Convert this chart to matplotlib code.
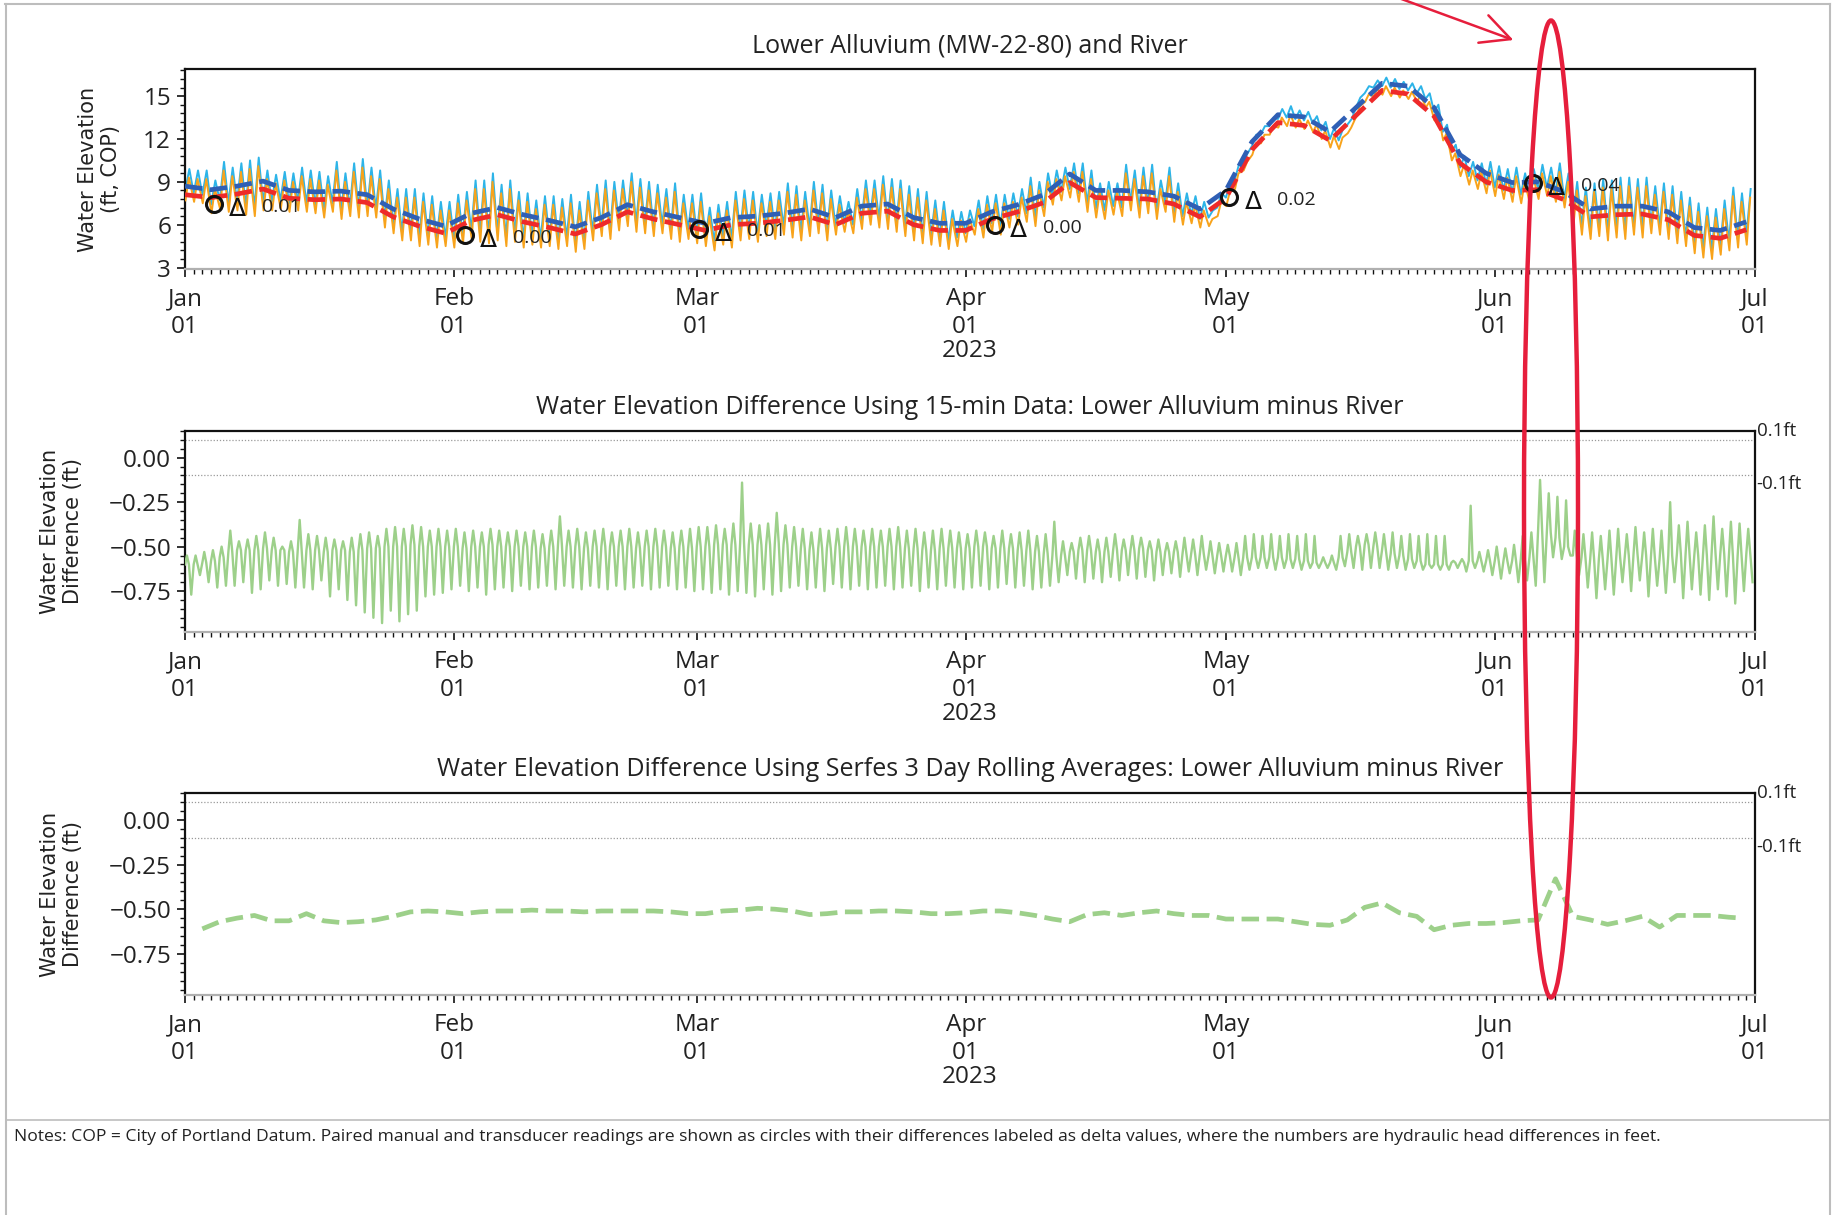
import numpy as np
import matplotlib
matplotlib.use("Agg")
import matplotlib.pyplot as plt
import matplotlib.dates as mdates
import matplotlib.transforms as mtransforms
from matplotlib.ticker import MultipleLocator, AutoMinorLocator, FuncFormatter
from matplotlib.patches import Ellipse, FancyArrowPatch
from matplotlib.lines import Line2D

# ---------------- data ----------------
# daily high / low of the 15-min river record (light blue), Jan 1 .. Jul 1 2023
river_high = [
    9.9, 9.8, 9.8, 9.1, 10.4, 10.0, 10.3, 10.5, 10.7, 9.8,
    9.5, 9.7, 9.6, 10.0, 9.8, 9.7, 9.4, 10.4, 9.6, 10.3,
    10.6, 10.0, 9.8, 9.1, 8.5, 8.5, 8.5, 8.2, 8.0, 7.6,
    7.6, 8.1, 8.3, 9.1, 9.1, 9.6, 8.8, 9.1, 8.3, 8.2,
    7.7, 8.0, 8.0, 7.8, 8.1, 7.6, 8.3, 8.8, 9.1, 9.0,
    9.1, 9.6, 9.2, 9.0, 8.8, 8.5, 8.9, 8.1, 8.1, 8.2,
    7.2, 7.4, 7.6, 8.3, 8.4, 8.3, 8.1, 8.2, 8.3, 8.9,
    8.7, 8.3, 9.0, 8.8, 8.4, 8.0, 7.6, 8.5, 9.1, 9.1,
    9.4, 9.2, 9.1, 8.7, 8.5, 8.3, 7.7, 7.6, 7.0, 6.9,
    7.0, 7.7, 8.0, 8.1, 8.1, 8.2, 8.5, 9.3, 9.0, 9.6,
    9.8, 10.0, 10.3, 10.3, 9.8, 8.9, 9.0, 8.9, 10.2, 9.8,
    10.0, 10.2, 9.1, 10.0, 8.9, 8.2, 8.0, 7.6, 7.0, 8.2,
    8.9, 10.2, 11.0, 12.3, 12.9, 13.5, 14.1, 14.3, 14.0, 13.9,
    13.6, 13.2, 12.8, 12.7, 13.4, 14.9, 15.7, 16.1, 16.3, 16.2,
    16.0, 15.9, 15.7, 15.2, 14.4, 13.0, 11.6, 10.8, 10.4, 10.3,
    10.4, 10.1, 9.9, 10.0, 9.6, 9.9, 10.2, 10.0, 10.3, 9.6,
    9.0, 8.6, 8.9, 9.2, 9.1, 9.3, 9.3, 9.2, 9.3, 8.7,
    8.9, 8.7, 8.3, 7.9, 7.5, 7.2, 7.1, 7.7, 8.6, 8.2,
    8.5]
river_low = [
    8.3, 8.2, 8.1, 7.4, 7.7, 7.5, 7.6, 7.3, 7.2, 7.6,
    7.6, 7.7, 7.5, 7.6, 7.5, 7.4, 7.1, 7.5, 7.0, 7.2,
    7.1, 7.2, 7.1, 6.4, 6.0, 5.5, 5.5, 5.1, 5.2, 5.0,
    5.1, 5.0, 5.3, 5.6, 5.4, 5.3, 5.5, 5.1, 5.4, 5.0,
    5.2, 5.0, 5.1, 4.9, 5.1, 4.7, 4.9, 5.5, 5.8, 5.6,
    6.2, 6.5, 6.1, 6.0, 5.8, 6.0, 5.6, 5.4, 5.6, 5.3,
    5.1, 4.8, 5.2, 5.0, 5.5, 5.6, 5.4, 5.8, 5.6, 5.9,
    5.7, 5.5, 5.8, 6.0, 5.5, 5.9, 6.1, 6.0, 6.3, 6.6,
    6.4, 6.3, 6.1, 5.8, 5.5, 5.3, 5.2, 5.1, 4.9, 5.1,
    5.4, 5.9, 5.7, 6.1, 5.9, 6.4, 6.6, 6.8, 6.5, 7.2,
    8.0, 8.3, 8.5, 8.2, 7.5, 7.1, 7.0, 7.3, 7.2, 7.6,
    7.1, 7.4, 7.0, 7.5, 6.8, 6.6, 6.7, 6.4, 6.5, 7.2,
    7.9, 9.1, 10.4, 11.5, 12.3, 12.9, 13.4, 13.5, 13.4, 13.3,
    13.1, 12.6, 12.0, 11.9, 13.0, 14.2, 15.2, 15.6, 15.7, 15.6,
    15.5, 15.4, 15.2, 14.8, 13.9, 12.5, 11.1, 10.0, 9.4, 9.1,
    8.8, 8.6, 8.4, 8.2, 8.1, 8.1, 8.4, 8.6, 8.2, 7.8,
    6.4, 5.9, 5.6, 5.8, 5.5, 5.7, 5.6, 5.9, 5.7, 6.0,
    5.9, 5.6, 5.3, 5.1, 4.6, 4.3, 4.2, 4.5, 4.8, 5.0,
    5.2]
# daily high / low of the 15-min lower alluvium record (orange)
alluvium_high = [
    9.3, 9.2, 9.2, 8.5, 9.8, 9.4, 9.7, 9.9, 10.1, 9.2,
    8.9, 9.1, 9.0, 9.4, 9.2, 9.1, 8.8, 9.8, 9.0, 9.7,
    10.0, 9.4, 9.2, 8.5, 7.9, 7.9, 7.9, 7.6, 7.4, 7.0,
    7.0, 7.5, 7.7, 8.5, 8.5, 9.0, 8.2, 8.5, 7.7, 7.6,
    7.1, 7.4, 7.4, 7.2, 7.5, 7.0, 7.7, 8.2, 8.5, 8.4,
    8.5, 9.0, 8.6, 8.4, 8.2, 7.9, 8.3, 7.5, 7.5, 7.6,
    6.6, 6.8, 7.0, 7.7, 7.8, 7.7, 7.5, 7.6, 7.7, 8.3,
    8.1, 7.7, 8.4, 8.2, 7.8, 7.4, 7.0, 7.9, 8.5, 8.5,
    8.8, 8.6, 8.5, 8.1, 7.9, 7.7, 7.1, 7.0, 6.4, 6.3,
    6.4, 7.1, 7.4, 7.5, 7.5, 7.6, 7.9, 8.7, 8.4, 9.0,
    9.2, 9.4, 9.7, 9.7, 9.2, 8.3, 8.4, 8.3, 9.6, 9.2,
    9.4, 9.6, 8.5, 9.4, 8.3, 7.6, 7.4, 7.0, 6.4, 7.6,
    8.3, 9.6, 10.4, 11.7, 12.3, 12.9, 13.5, 13.7, 13.4, 13.3,
    13.0, 12.6, 12.2, 12.1, 12.8, 14.3, 15.1, 15.5, 15.7, 15.6,
    15.4, 15.3, 15.1, 14.6, 13.8, 12.4, 11.0, 10.2, 9.8, 9.7,
    9.8, 9.5, 9.3, 9.4, 9.0, 9.3, 9.6, 9.4, 9.7, 9.0,
    8.4, 8.0, 8.3, 8.6, 8.5, 8.7, 8.7, 8.6, 8.7, 8.1,
    8.3, 8.1, 7.7, 7.3, 6.9, 6.6, 6.5, 7.1, 8.0, 7.6,
    7.9]
alluvium_low = [
    7.7, 7.6, 7.5, 6.8, 7.1, 6.9, 7.0, 6.7, 6.6, 7.0,
    7.0, 7.1, 6.9, 7.0, 6.9, 6.8, 6.5, 6.9, 6.4, 6.6,
    6.5, 6.6, 6.5, 5.8, 5.4, 4.9, 4.9, 4.5, 4.6, 4.4,
    4.5, 4.4, 4.7, 5.0, 4.8, 4.7, 4.9, 4.5, 4.8, 4.4,
    4.6, 4.4, 4.5, 4.3, 4.5, 4.1, 4.3, 4.9, 5.2, 5.0,
    5.6, 5.9, 5.5, 5.4, 5.2, 5.4, 5.0, 4.8, 5.0, 4.7,
    4.5, 4.2, 4.6, 4.4, 4.9, 5.0, 4.8, 5.2, 5.0, 5.3,
    5.1, 4.9, 5.2, 5.4, 4.9, 5.3, 5.5, 5.4, 5.7, 6.0,
    5.8, 5.7, 5.5, 5.2, 4.9, 4.7, 4.6, 4.5, 4.3, 4.5,
    4.8, 5.3, 5.1, 5.5, 5.3, 5.8, 6.0, 6.2, 5.9, 6.6,
    7.4, 7.7, 7.9, 7.6, 6.9, 6.5, 6.4, 6.7, 6.6, 7.0,
    6.5, 6.8, 6.4, 6.9, 6.2, 6.0, 6.1, 5.8, 5.9, 6.6,
    7.3, 8.5, 9.8, 10.9, 11.7, 12.3, 12.8, 12.9, 12.8, 12.7,
    12.5, 12.0, 11.4, 11.3, 12.4, 13.6, 14.6, 15.0, 15.1, 15.0,
    14.9, 14.8, 14.6, 14.2, 13.3, 11.9, 10.5, 9.4, 8.8, 8.5,
    8.2, 8.0, 7.8, 7.6, 7.5, 7.5, 7.8, 8.0, 7.6, 7.2,
    5.8, 5.3, 5.0, 5.2, 4.9, 5.1, 5.0, 5.3, 5.1, 5.4,
    5.3, 5.0, 4.7, 4.5, 4.0, 3.7, 3.6, 3.9, 4.2, 4.4,
    4.6]

# 3-day rolling averages, sampled every 3 days (day offsets from Jan 1)
avg_days = list(range(0, 181, 3))
river_avg = [8.7, 8.45, 8.7, 9.05, 8.4, 8.3, 8.35, 8.1, 7.1, 6.4,
             5.9, 6.8, 7.2, 6.7, 6.3, 5.85, 6.5, 7.4, 6.9, 6.5,
             6.1, 6.5, 6.6, 6.8, 7.1, 6.5, 7.3, 7.45, 6.5, 6.1,
             6.1, 6.9, 7.4, 8.1, 9.55, 8.4, 8.4, 8.3, 8.0, 7.1,
             8.4, 11.8, 13.7, 13.55, 12.5, 14.2, 15.9, 15.7, 14.2, 10.9,
             9.6, 8.95, 9.0, 8.3, 7.1, 7.3, 7.3, 6.9, 5.8, 5.6,
             6.2]
alluvium_avg = [8.1, 7.9, 8.15, 8.5, 7.85, 7.75, 7.8, 7.55, 6.55, 5.9,
                5.4, 6.3, 6.7, 6.2, 5.8, 5.35, 6.0, 6.9, 6.4, 6.0,
                5.6, 6.0, 6.1, 6.3, 6.55, 6.0, 6.8, 6.95, 6.0, 5.6,
                5.6, 6.4, 6.9, 7.55, 8.95, 7.9, 7.85, 7.8, 7.45, 6.55,
                7.85, 11.25, 13.15, 12.95, 11.9, 13.65, 15.4, 15.15, 13.6, 10.3,
                9.0, 8.4, 8.45, 7.75, 6.55, 6.7, 6.75, 6.35, 5.25, 5.05,
                5.65]

# paired manual / transducer readings
manual_days = [3.35, 32.3, 59.3, 93.4, 120.4, 155.4]
manual_vals = [7.45, 5.28, 5.72, 5.98, 7.91, 8.93]
manual_delta = ["0.01", "0.00", "0.01", "0.00", "0.02", "0.04"]

# 15-min difference (alluvium minus river): daily max / typical level / min
diff_max = [
    -0.55, -0.55, -0.53, -0.52, -0.50, -0.41, -0.47, -0.46, -0.44, -0.42,
    -0.45, -0.50, -0.47, -0.35, -0.43, -0.44, -0.45, -0.46, -0.47, -0.45,
    -0.43, -0.42, -0.44, -0.40, -0.39, -0.40, -0.38, -0.39, -0.41, -0.40,
    -0.41, -0.40, -0.42, -0.41, -0.42, -0.40, -0.41, -0.42, -0.41, -0.42,
    -0.41, -0.43, -0.41, -0.33, -0.41, -0.40, -0.42, -0.41, -0.40, -0.42,
    -0.41, -0.40, -0.42, -0.41, -0.40, -0.41, -0.42, -0.41, -0.40, -0.39,
    -0.39, -0.38, -0.40, -0.37, -0.14, -0.37, -0.38, -0.37, -0.31, -0.38,
    -0.39, -0.40, -0.42, -0.40, -0.41, -0.40, -0.39, -0.40, -0.41, -0.40,
    -0.41, -0.40, -0.39, -0.41, -0.40, -0.42, -0.41, -0.40, -0.41, -0.42,
    -0.43, -0.41, -0.42, -0.44, -0.41, -0.43, -0.42, -0.41, -0.44, -0.43,
    -0.36, -0.47, -0.48, -0.45, -0.44, -0.46, -0.45, -0.43, -0.46, -0.44,
    -0.45, -0.47, -0.46, -0.48, -0.47, -0.45, -0.46, -0.44, -0.47, -0.48,
    -0.49, -0.48, -0.44, -0.43, -0.44, -0.43, -0.44, -0.43, -0.44, -0.43,
    -0.44, -0.56, -0.55, -0.44, -0.43, -0.44, -0.43, -0.42, -0.43, -0.42,
    -0.44, -0.43, -0.44, -0.43, -0.44, -0.44, -0.58, -0.57, -0.27, -0.53,
    -0.52, -0.50, -0.51, -0.49, -0.44, -0.42, -0.125, -0.20, -0.22, -0.24,
    -0.41, -0.43, -0.42, -0.44, -0.41, -0.40, -0.43, -0.39, -0.42, -0.40,
    -0.41, -0.25, -0.38, -0.36, -0.42, -0.38, -0.33, -0.40, -0.36, -0.37,
    -0.40]
diff_mid = [
    -0.60, -0.60, -0.59, -0.58, -0.56, -0.53, -0.52, -0.52, -0.52, -0.51,
    -0.52, -0.52, -0.53, -0.52, -0.52, -0.52, -0.53, -0.52, -0.52, -0.53,
    -0.52, -0.51, -0.51, -0.50, -0.50, -0.50, -0.49, -0.50, -0.50, -0.50,
    -0.50, -0.50, -0.51, -0.50, -0.50, -0.49, -0.50, -0.50, -0.50, -0.50,
    -0.50, -0.51, -0.50, -0.49, -0.50, -0.50, -0.51, -0.50, -0.50, -0.50,
    -0.50, -0.50, -0.51, -0.50, -0.50, -0.50, -0.51, -0.50, -0.51, -0.50,
    -0.50, -0.49, -0.49, -0.49, -0.48, -0.49, -0.49, -0.49, -0.48, -0.49,
    -0.50, -0.51, -0.52, -0.51, -0.51, -0.50, -0.50, -0.50, -0.50, -0.50,
    -0.50, -0.50, -0.50, -0.51, -0.51, -0.52, -0.52, -0.51, -0.51, -0.51,
    -0.51, -0.50, -0.50, -0.51, -0.51, -0.51, -0.52, -0.52, -0.53, -0.54,
    -0.55, -0.55, -0.53, -0.52, -0.52, -0.53, -0.53, -0.52, -0.52, -0.52,
    -0.51, -0.52, -0.53, -0.53, -0.53, -0.54, -0.54, -0.54, -0.55, -0.55,
    -0.55, -0.56, -0.56, -0.56, -0.56, -0.56, -0.56, -0.57, -0.57, -0.58,
    -0.59, -0.59, -0.59, -0.56, -0.53, -0.50, -0.49, -0.50, -0.52, -0.54,
    -0.55, -0.57, -0.58, -0.60, -0.60, -0.60, -0.59, -0.59, -0.58, -0.58,
    -0.58, -0.58, -0.58, -0.58, -0.57, -0.56, -0.40, -0.42, -0.45, -0.50,
    -0.55, -0.56, -0.57, -0.57, -0.57, -0.56, -0.55, -0.54, -0.55, -0.56,
    -0.57, -0.55, -0.54, -0.54, -0.55, -0.55, -0.54, -0.54, -0.55, -0.55,
    -0.54]
diff_min = [
    -0.77, -0.66, -0.70, -0.73, -0.72, -0.72, -0.70, -0.76, -0.74, -0.69,
    -0.72, -0.71, -0.73, -0.73, -0.74, -0.69, -0.78, -0.74, -0.80, -0.83,
    -0.87, -0.90, -0.93, -0.86, -0.92, -0.88, -0.86, -0.78, -0.77, -0.76,
    -0.74, -0.72, -0.75, -0.73, -0.77, -0.74, -0.73, -0.75, -0.72, -0.74,
    -0.73, -0.72, -0.74, -0.72, -0.73, -0.74, -0.72, -0.73, -0.74, -0.72,
    -0.74, -0.73, -0.72, -0.74, -0.73, -0.72, -0.74, -0.73, -0.75, -0.74,
    -0.76, -0.74, -0.77, -0.75, -0.76, -0.78, -0.74, -0.77, -0.75, -0.73,
    -0.72, -0.74, -0.73, -0.75, -0.71, -0.73, -0.74, -0.72, -0.74, -0.73,
    -0.72, -0.74, -0.73, -0.72, -0.75, -0.73, -0.74, -0.72, -0.73, -0.74,
    -0.73, -0.72, -0.74, -0.73, -0.71, -0.73, -0.72, -0.74, -0.73, -0.72,
    -0.70, -0.66, -0.68, -0.70, -0.68, -0.70, -0.67, -0.69, -0.66, -0.68,
    -0.67, -0.69, -0.66, -0.65, -0.67, -0.64, -0.66, -0.63, -0.65, -0.64,
    -0.64, -0.66, -0.63, -0.62, -0.62, -0.63, -0.62, -0.62, -0.63, -0.62,
    -0.62, -0.62, -0.63, -0.61, -0.62, -0.63, -0.62, -0.62, -0.63, -0.62,
    -0.63, -0.62, -0.63, -0.62, -0.63, -0.63, -0.62, -0.64, -0.62, -0.64,
    -0.66, -0.68, -0.65, -0.70, -0.69, -0.72, -0.70, -0.56, -0.57, -0.55,
    -0.66, -0.73, -0.79, -0.74, -0.77, -0.70, -0.75, -0.69, -0.78, -0.72,
    -0.76, -0.70, -0.79, -0.74, -0.77, -0.80, -0.74, -0.78, -0.82, -0.75,
    -0.70]

# Serfes 3-day rolling average difference
roll_days = list(range(2, 179, 2)) + [179.5]
roll_diff = [
    -0.61, -0.57, -0.55, -0.535, -0.565, -0.565, -0.525, -0.565, -0.575, -0.57,
    -0.56, -0.54, -0.515, -0.51, -0.515, -0.525, -0.515, -0.51, -0.51, -0.505,
    -0.51, -0.51, -0.515, -0.51, -0.51, -0.51, -0.51, -0.515, -0.525, -0.525,
    -0.51, -0.505, -0.495, -0.50, -0.51, -0.53, -0.525, -0.515, -0.515, -0.51,
    -0.51, -0.515, -0.525, -0.525, -0.52, -0.51, -0.51, -0.52, -0.535, -0.555,
    -0.57, -0.53, -0.52, -0.535, -0.52, -0.51, -0.525, -0.535, -0.535, -0.555,
    -0.555, -0.555, -0.555, -0.57, -0.585, -0.59, -0.56, -0.49, -0.465, -0.52,
    -0.54, -0.615, -0.59, -0.58, -0.58, -0.575, -0.565, -0.56, -0.33, -0.54,
    -0.56, -0.585, -0.565, -0.54, -0.60, -0.535, -0.535, -0.535, -0.545, -0.55]

titles = ["Lower Alluvium (MW-22-80) and River",
          "Water Elevation Difference Using 15-min Data: Lower Alluvium minus River",
          "Water Elevation Difference Using Serfes 3 Day Rolling Averages: Lower Alluvium minus River"]
ylabels = ["Water Elevation\n(ft, COP)", "Water Elevation\nDifference (ft)",
           "Water Elevation\nDifference (ft)"]
notes = ("Notes: COP = City of Portland Datum. Paired manual and transducer readings are shown as "
         "circles with their differences labeled as delta values, where the numbers are hydraulic "
         "head differences in feet.")

# ---------------- helpers ----------------
START = np.datetime64("2023-01-01T00:00")
END = np.datetime64("2023-07-01T00:00")


def to_dt(days):
    mins = np.round(np.asarray(days, dtype=float) * 1440).astype(np.int64)
    return START + mins.astype("timedelta64[m]")


def daily_cycle(series, offsets):
    """Arrange several per-day values into one time-ordered trace."""
    d = np.arange(len(series[0]), dtype=float)
    t = np.column_stack([d + o for o in offsets]).ravel()
    v = np.column_stack(series).ravel()
    return to_dt(t), v


# ---------------- figure ----------------
plt.rcParams["font.family"] = ["Open Sans", "DejaVu Sans"]
W, H, DPI = 1833, 1215, 100
fig = plt.figure(figsize=(W / DPI, H / DPI), dpi=DPI)
fig.patch.set_facecolor("white")


def px_axes(left, top, right, bottom):
    return fig.add_axes([left / W, 1 - bottom / H, (right - left) / W, (bottom - top) / H])


ax1 = px_axes(185, 69, 1755, 269)
ax2 = px_axes(185, 431, 1755, 632)
ax3 = px_axes(185, 793, 1755, 995)

LBLUE = "#2db4e8"
ORANGE = "#f8a31b"
BLUE = "#2f5fb5"
RED = "#ee2a2a"
GREEN = "#9dd08a"
TXT = "#222222"

# top panel
t, v = daily_cycle([river_low, river_high], [0.0, 0.5])
ax1.plot(t, v, color=LBLUE, lw=1.4, zorder=2)
t, v = daily_cycle([alluvium_low, alluvium_high], [0.05, 0.45])
ax1.plot(t, v, color=ORANGE, lw=1.4, zorder=3)
ax1.plot(to_dt(avg_days), alluvium_avg, color=RED, lw=3.4, ls="--", zorder=4)
ax1.plot(to_dt(avg_days), river_avg, color=BLUE, lw=3.4, ls="--", zorder=5)
ax1.plot(to_dt(manual_days), manual_vals, "o", mfc="none", mec="#111111", ms=11.5, mew=2.2,
         zorder=7)
for d, val, lab in zip(manual_days, manual_vals, manual_delta):
    xy = (to_dt([d])[0], val)
    ax1.annotate("Δ", xy=xy, xytext=(17, -3.6), textcoords="offset points", ha="center",
                 va="center", fontsize=18, family="DejaVu Sans",
                 color="#111111", zorder=7)
    ax1.annotate(lab, xy=xy, xytext=(34.5, -2), textcoords="offset points", ha="left",
                 va="center", fontsize=14, color=TXT, zorder=7)
ax1.set_ylim(2.9, 16.9)
ax1.yaxis.set_major_locator(MultipleLocator(3))
ax1.yaxis.set_minor_locator(AutoMinorLocator(5))

# middle panel
t, v = daily_cycle([diff_mid, diff_max, diff_mid, diff_min], [0.0, 0.22, 0.45, 0.72])
ax2.plot(t, v, color=GREEN, lw=1.7, zorder=3)

# bottom panel
ax3.plot(to_dt(roll_days), roll_diff, color=GREEN, lw=3.4, ls="--", zorder=3)

minus_fmt = FuncFormatter(lambda x, p: f"{x:.2f}".replace("-", "\u2212"))
for ax in (ax2, ax3):
    ax.set_ylim(-0.98, 0.15)
    ax.yaxis.set_major_locator(MultipleLocator(0.25))
    ax.yaxis.set_minor_locator(AutoMinorLocator(5))
    ax.yaxis.set_major_formatter(minus_fmt)
    for yv in (0.1, -0.1):
        ax.axhline(yv, color="#9a9a9a", lw=0.9, ls=(0, (1, 1.5)), zorder=1)
    tr = mtransforms.blended_transform_factory(ax.transAxes, ax.transData)
    ax.text(1.001, 0.1, "0.1ft", transform=tr, ha="left", va="bottom", fontsize=13.5,
            color=TXT, clip_on=False)
    ax.text(1.001, -0.1, "-0.1ft", transform=tr, ha="left", va="top", fontsize=13.5,
            color=TXT, clip_on=False)

label_x = [-0.0545, -0.0787, -0.0787]
for ax, title, ylab, lx in zip((ax1, ax2, ax3), titles, ylabels, label_x):
    ax.set_xlim(START, END)
    ax.xaxis.set_major_locator(mdates.MonthLocator())
    ax.xaxis.set_minor_locator(mdates.DayLocator())
    ax.xaxis.set_major_formatter(mdates.DateFormatter("%b\n%d"))
    ax.set_xlabel("2023", fontsize=17.5, labelpad=0, color=TXT)
    ax.set_title(title, fontsize=18, pad=12, color=TXT)
    ax.set_ylabel(ylab, fontsize=15, family="DejaVu Sans", va="center", ha="center",
                  color=TXT, linespacing=1.2)
    ax.yaxis.set_label_coords(lx, 0.5)
    ax.tick_params(axis="both", which="major", direction="out", length=6, width=1.2,
                   labelsize=17.5, colors="#111111", labelcolor=TXT)
    ax.tick_params(axis="both", which="minor", direction="out", length=3.5, width=1.0,
                   colors="#111111")
    ax.tick_params(axis="x", which="major", pad=7)
    ax.tick_params(axis="y", which="major", pad=4)
    for lab in ax.get_xticklabels():
        lab.set_linespacing(1.2)
    for side in ("top", "left", "right"):
        ax.spines[side].set_color("#111111")
        ax.spines[side].set_linewidth(1.6)
    ax.spines["bottom"].set_color("#b0b0b0")
    ax.spines["bottom"].set_linewidth(1.6)
    ax.set_facecolor("white")

# frame lines and notes
def fig_line(x0, y0, x1, y1, **kw):
    fig.add_artist(Line2D([x0 / W, x1 / W], [1 - y0 / H, 1 - y1 / H],
                          transform=fig.transFigure, **kw))

fig_line(5, 4, 1830, 4, color="#bdbdbd", lw=1.5)
fig_line(6, 4, 6, H, color="#bdbdbd", lw=1.5)
fig_line(1830, 4, 1830, H, color="#bdbdbd", lw=1.5)
fig_line(6, 1120, 1830, 1120, color="#bdbdbd", lw=1.2)
fig.text(14 / W, 1 - 1137 / H, notes, ha="left", va="center", fontsize=12.6, color=TXT)

# red annotation ellipse and arrow
RED_ANN = "#e61e3c"
fig.add_artist(Ellipse((1551 / W, 1 - 509 / H), 54 / W, 977 / H, transform=fig.transFigure,
                       fill=False, ec=RED_ANN, lw=3.2, zorder=10))
fig.add_artist(FancyArrowPatch((1396 / W, 1 + 3 / H), (1516 / W, 1 - 41 / H),
                               transform=fig.transFigure,
                               arrowstyle="->,head_length=0.7,head_width=0.35",
                               mutation_scale=30, color=RED_ANN, lw=1.8, zorder=10))

fig.savefig("out.png", dpi=DPI, facecolor="white")
